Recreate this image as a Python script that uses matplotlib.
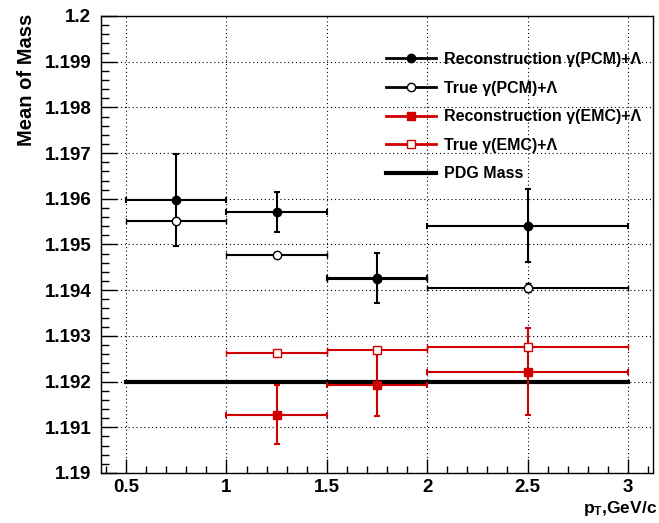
import matplotlib
matplotlib.use('Agg')
import matplotlib.pyplot as plt
from matplotlib.lines import Line2D
from matplotlib.ticker import MultipleLocator

plt.rcParams['font.family'] = ['Liberation Sans', 'DejaVu Sans']
plt.rcParams['font.weight'] = 'bold'
plt.rcParams['mathtext.fontset'] = 'custom'
plt.rcParams['mathtext.rm'] = 'Liberation Sans:bold'
plt.rcParams['mathtext.it'] = 'Liberation Sans:bold'

# pT bins
pcm_x = [0.75, 1.25, 1.75, 2.5]
pcm_xerr = [0.25, 0.25, 0.25, 0.5]
emc_x = [1.25, 1.75, 2.5]
emc_xerr = [0.25, 0.25, 0.5]

# mean mass values
reco_pcm = [1.19597, 1.19571, 1.19427, 1.19541]
reco_pcm_err = [0.00100, 0.00044, 0.00054, 0.00080]
true_pcm = [1.19552, 1.19476, 1.19425, 1.19405]
true_pcm_err = [0.00005, 0.00003, 0.00003, 0.00010]
reco_emc = [1.19128, 1.19193, 1.19222]
reco_emc_err = [0.00064, 0.00068, 0.00095]
true_emc = [1.19263, 1.19270, 1.19275]
true_emc_err = [0.00003, 0.00003, 0.00004]
pdg_mass = 1.192
pdg_range = [0.5, 3.0]

labels = ['Reconstruction \u03b3(PCM)+\u039b', 'True \u03b3(PCM)+\u039b',
          'Reconstruction \u03b3(EMC)+\u039b', 'True \u03b3(EMC)+\u039b', 'PDG Mass']

red = '#d00000'

fig = plt.figure(figsize=(6.59, 5.23), dpi=100)
ax = fig.add_axes([101 / 659, 1 - 473 / 523, 552 / 659, 457 / 523])

ax.plot(pdg_range, [pdg_mass, pdg_mass], color='black', lw=3, zorder=2)

common = dict(capsize=2.2, capthick=1.5, elinewidth=1.5, linestyle='none', zorder=3)
ax.errorbar(pcm_x, true_pcm, xerr=pcm_xerr, yerr=true_pcm_err, fmt='o',
            color='black', mfc='white', mec='black', mew=1, ms=6, **common)
ax.errorbar(pcm_x, reco_pcm, xerr=pcm_xerr, yerr=reco_pcm_err, fmt='o',
            color='black', ms=6, **common)
ax.errorbar(emc_x, true_emc, xerr=emc_xerr, yerr=true_emc_err, fmt='s',
            color=red, mfc='white', mec=red, mew=1, ms=6, **common)
ax.errorbar(emc_x, reco_emc, xerr=emc_xerr, yerr=reco_emc_err, fmt='s',
            color=red, ms=6, **common)

ax.set_xlim(0.375, 3.125)
ax.set_ylim(1.19, 1.2)
ax.xaxis.set_major_locator(MultipleLocator(0.5))
ax.xaxis.set_minor_locator(MultipleLocator(0.1))
ax.yaxis.set_major_locator(MultipleLocator(0.001))
ax.yaxis.set_minor_locator(MultipleLocator(0.0002))
ax.yaxis.set_major_formatter(plt.FuncFormatter(lambda v, p: f'{v:.3f}'.rstrip('0').rstrip('.')))
ax.xaxis.set_major_formatter(plt.FuncFormatter(lambda v, p: f'{v:g}'))

ax.tick_params(axis='both', which='both', direction='in', top=False, right=False,
               labelsize=13.5, width=1, color='black')
ax.tick_params(axis='x', which='major', length=10, pad=4)
ax.tick_params(axis='x', which='minor', length=5)
ax.tick_params(axis='y', which='major', length=11.5, pad=7)
ax.tick_params(axis='y', which='minor', length=5.7)
for lab in ax.get_xticklabels() + ax.get_yticklabels():
    lab.set_fontweight('bold')
for s in ax.spines.values():
    s.set_linewidth(1)

ax.grid(True, which='major', color='black', linestyle=(0, (1, 2.5)), lw=0.8)
ax.set_axisbelow(True)

fig.text(27 / 659, 1 - 14 / 523, 'Mean of Mass', rotation=90, ha='center', va='top',
         fontsize=14.5, fontweight='bold')
fig.text(657 / 659, 1 - 513 / 523, r'$\mathrm{p_{T}}$,GeV/c', ha='right', va='baseline',
         fontsize=12.5, fontweight='bold')

handles = [
    Line2D([], [], color='black', lw=2, marker='o', ms=6),
    Line2D([], [], color='black', lw=2, marker='o', ms=6, mfc='white', mew=1),
    Line2D([], [], color=red, lw=2, marker='s', ms=6),
    Line2D([], [], color=red, lw=2, marker='s', ms=6, mfc='white', mew=1),
    Line2D([], [], color='black', lw=3),
]
leg = fig.legend(handles, labels, loc='upper left', bbox_to_anchor=(386 / 659, 1 - 52 / 523),
                 frameon=False, fontsize=11.5, handlelength=3.1, handletextpad=0.55,
                 labelspacing=0.85, borderpad=0, borderaxespad=0)
for t in leg.get_texts():
    t.set_fontweight('bold')

fig.savefig('out.png', dpi=100, facecolor='white')
